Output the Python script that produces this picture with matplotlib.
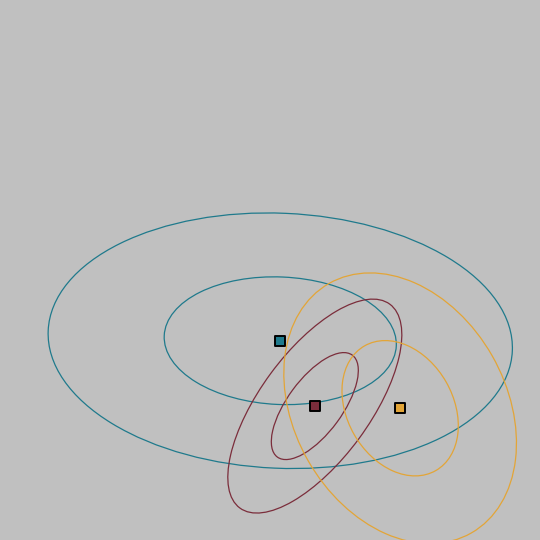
import numpy as np
import matplotlib
matplotlib.use("Agg")
import matplotlib.pyplot as plt
from matplotlib.patches import Ellipse
from matplotlib.markers import MarkerStyle

# group means and covariance matrices (data units)
names = ["teal", "maroon", "orange"]
colors = ["#1f7a8c", "#7b2d3b", "#e3a537"]
mean_x = [0.19, 0.83, 2.41]
mean_y = [-1.31, -2.52, -2.56]
cov_xx = [4.62, 0.649, 1.16]
cov_yy = [1.40, 0.981, 1.57]
cov_xy = [-0.141, 0.532, -0.347]
n_std = [1, 2]

fig = plt.figure(figsize=(5.4, 5.4), dpi=100)
fig.patch.set_facecolor("#c0c0c0")
ax = fig.add_axes([0, 0, 1, 1])
ax.set_facecolor("#c0c0c0")
ax.set_xlim(-5, 5)
ax.set_ylim(-5, 5)
ax.axis("off")

for i in range(len(names)):
    cov = np.array([[cov_xx[i], cov_xy[i]], [cov_xy[i], cov_yy[i]]])
    vals, vecs = np.linalg.eigh(cov)
    angle = np.degrees(np.arctan2(vecs[1, 1], vecs[0, 1]))
    for k in n_std:
        w = 2 * k * np.sqrt(vals[1])
        h = 2 * k * np.sqrt(vals[0])
        e = Ellipse((mean_x[i], mean_y[i]), w, h, angle=angle,
                    fill=False, edgecolor=colors[i], linewidth=0.9)
        ax.add_patch(e)

for i in range(len(names)):
    ax.plot(mean_x[i], mean_y[i], marker=MarkerStyle("s", joinstyle="round"),
            markersize=7.6, markerfacecolor=colors[i], markeredgecolor="black",
            markeredgewidth=1.4, linestyle="none", zorder=5)

fig.savefig("out.png", dpi=100, facecolor=fig.get_facecolor())
